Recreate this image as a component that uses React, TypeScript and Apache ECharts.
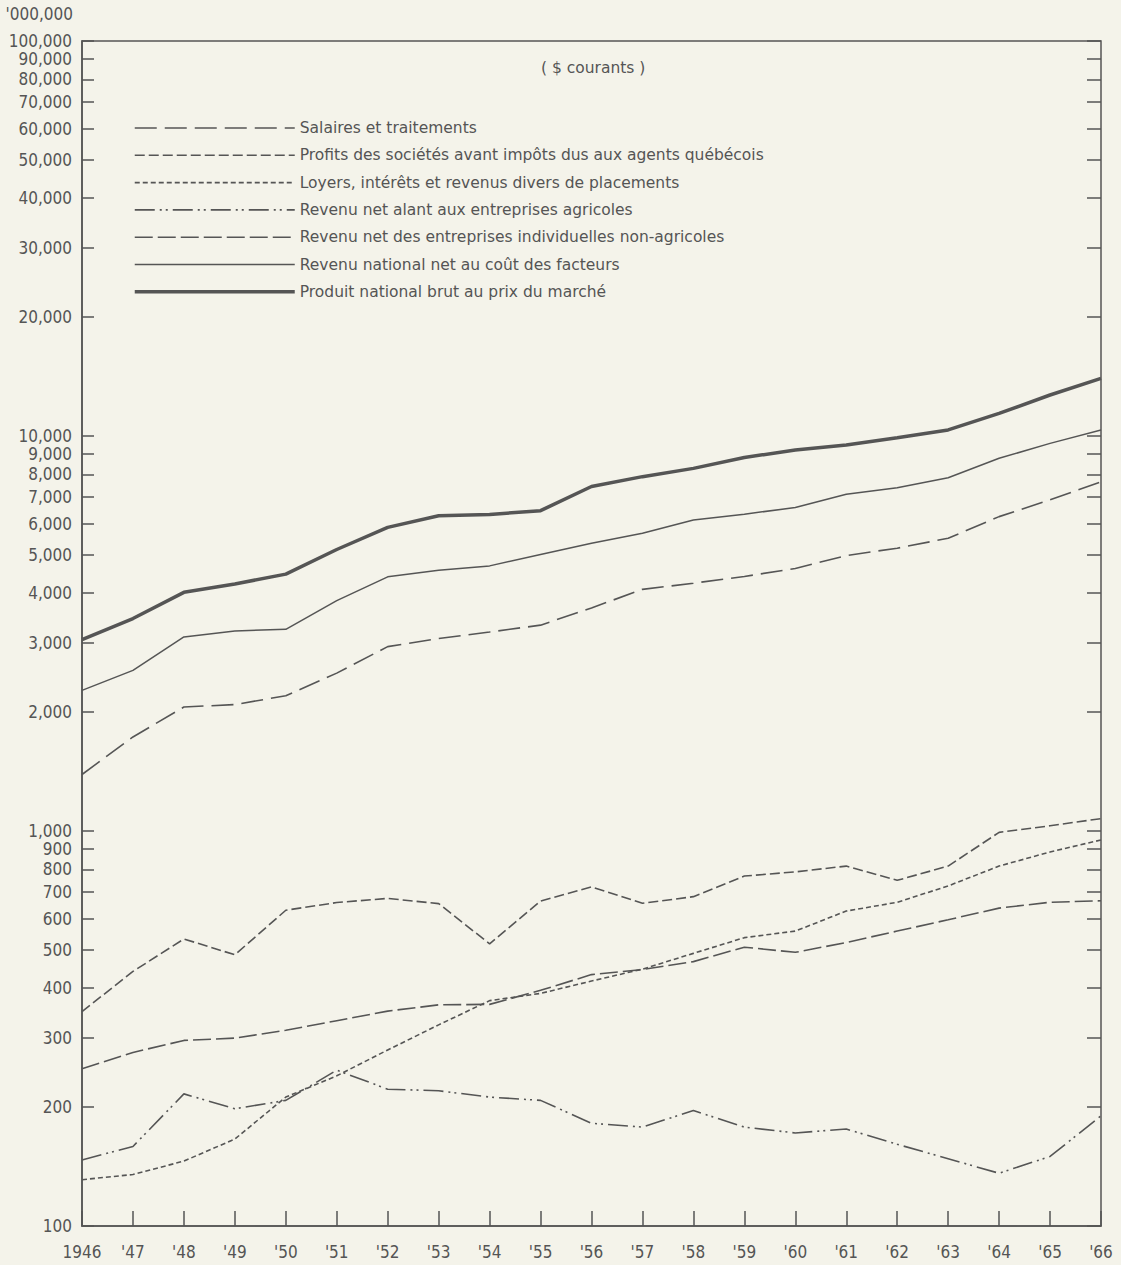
import React, { useEffect, useRef } from 'react';
import * as echarts from 'echarts';

const years = ['1946', "'47", "'48", "'49", "'50", "'51", "'52", "'53", "'54", "'55", "'56", "'57", "'58", "'59", "'60", "'61", "'62", "'63", "'64", "'65", "'66"];

const salaires = [1390, 1730, 2060, 2090, 2200, 2510, 2930, 3070, 3190, 3320, 3670, 4090, 4240, 4410, 4620, 4980, 5200, 5510, 6250, 6890, 7660];
const profits = [349, 441, 533, 486, 630, 659, 675, 655, 518, 665, 722, 656, 682, 769, 788, 815, 750, 815, 992, 1031, 1075];
const loyers = [131, 135, 146, 166, 212, 240, 279, 323, 372, 388, 417, 447, 490, 537, 558, 627, 660, 726, 815, 885, 949];
const agricoles = [147, 159, 216, 198, 208, 248, 222, 220, 212, 208, 182, 178, 196, 178, 172, 176, 161, 148, 136, 150, 190];
const nonAgricoles = [250, 275, 295, 299, 313, 331, 350, 363, 364, 395, 433, 446, 467, 508, 493, 522, 558, 596, 638, 660, 666];
const revenuNational = [2270, 2550, 3100, 3210, 3240, 3830, 4400, 4570, 4690, 5010, 5350, 5670, 6130, 6340, 6590, 7120, 7400, 7840, 8780, 9580, 10350];
const produitBrut = [3050, 3450, 4020, 4220, 4470, 5160, 5870, 6280, 6330, 6470, 7450, 7890, 8280, 8820, 9220, 9490, 9900, 10360, 11410, 12700, 13990];

const yTicks = [100, 200, 300, 400, 500, 600, 700, 800, 900, 1000, 2000, 3000, 4000, 5000, 6000, 7000, 8000, 9000, 10000, 20000, 30000, 40000, 50000, 60000, 70000, 80000, 90000, 100000];

const seriesNames = [
  'Salaires et traitements',
  'Profits des sociétés avant impôts dus aux agents québécois',
  'Loyers, intérêts et revenus divers de placements',
  'Revenu net alant aux entreprises agricoles',
  'Revenu net des entreprises individuelles non-agricoles',
  'Revenu national net au coût des facteurs',
  'Produit national brut au prix du marché',
];

const dashTypes: any[] = [[22, 8], [10, 4], [5, 3], [20, 5, 2, 4, 2, 5], [18, 5], 'solid', 'solid'];
const widths = [1.6, 1.6, 1.6, 1.6, 1.6, 1.5, 3.5];

export default function App() {
  const ref = useRef<HTMLDivElement>(null);
  useEffect(() => {
    document.body.style.margin = '0';
    const chart = echarts.init(ref.current!, null, { renderer: 'svg' });
    const ink = '#555';
    const fmt = (v: number) => Math.round(v).toString().replace(/\B(?=(\d{3})+(?!\d))/g, ',');
    const axisFont = { color: ink, fontSize: 17, fontFamily: 'DejaVu Sans Condensed, DejaVu Sans, sans-serif' };
    const datasets = [salaires, profits, loyers, agricoles, nonAgricoles, revenuNational, produitBrut];
    chart.setOption({
      animation: false,
      backgroundColor: '#f4f3ea',
      title: {
        text: '( $ courants )',
        left: 536,
        top: 55,
        textStyle: { color: ink, fontSize: 15.5, fontWeight: 'normal', fontFamily: 'DejaVu Sans, sans-serif' },
      },
      legend: {
        orient: 'vertical',
        left: 128,
        top: 115,
        itemWidth: 160,
        itemHeight: 14,
        itemGap: 11.3,
        selectedMode: false,
        itemStyle: { opacity: 0 },
        textStyle: { color: ink, fontSize: 15.5, fontFamily: 'DejaVu Sans, sans-serif' },
        data: seriesNames.map((name, i) => ({
          name,
          lineStyle: { color: ink, width: widths[i], type: dashTypes[i] },
        })),
      },
      grid: { left: 82, right: 20, top: 41, bottom: 39, show: true, borderColor: ink, borderWidth: 1.5, backgroundColor: 'transparent' },
      xAxis: {
        type: 'category',
        data: years,
        boundaryGap: false,
        axisLine: { lineStyle: { color: ink, width: 1.5 } },
        axisTick: { inside: true, length: 15, interval: 0, lineStyle: { color: ink, width: 1.5 } },
        axisLabel: { interval: 0, margin: 17, ...axisFont },
        splitLine: { show: false },
      },
      yAxis: [
        {
          type: 'log',
          logBase: 10,
          min: 100,
          max: 100000,
          name: "'000,000",
          nameLocation: 'end',
          nameGap: 19,
          nameTextStyle: { ...axisFont, align: 'right', verticalAlign: 'bottom', padding: [0, 9, 0, 0] },
          axisLine: { show: true, lineStyle: { color: ink, width: 1.5 } },
          axisTick: { show: true, inside: true, length: 12, customValues: yTicks, lineStyle: { color: ink, width: 1.5 } },
          axisLabel: { customValues: yTicks, formatter: fmt, margin: 10, ...axisFont },
          minorTick: { show: false },
          splitLine: { show: false },
        },
        {
          type: 'log',
          logBase: 10,
          min: 100,
          max: 100000,
          position: 'right',
          axisLine: { show: false },
          axisTick: { show: true, inside: true, length: 14, customValues: yTicks, lineStyle: { color: ink, width: 1.5 } },
          axisLabel: { show: false },
          splitLine: { show: false },
        },
      ],
      series: seriesNames.map((name, i) => ({
        name,
        type: 'line',
        data: datasets[i],
        symbol: 'none',
        yAxisIndex: 0,
        lineStyle: { color: ink, width: widths[i], type: dashTypes[i] },
        itemStyle: { color: ink },
        emphasis: { disabled: true },
      })),
    });
    return () => chart.dispose();
  }, []);
  return <div ref={ref} style={{ width: 1121, height: 1265 }} />;
}
